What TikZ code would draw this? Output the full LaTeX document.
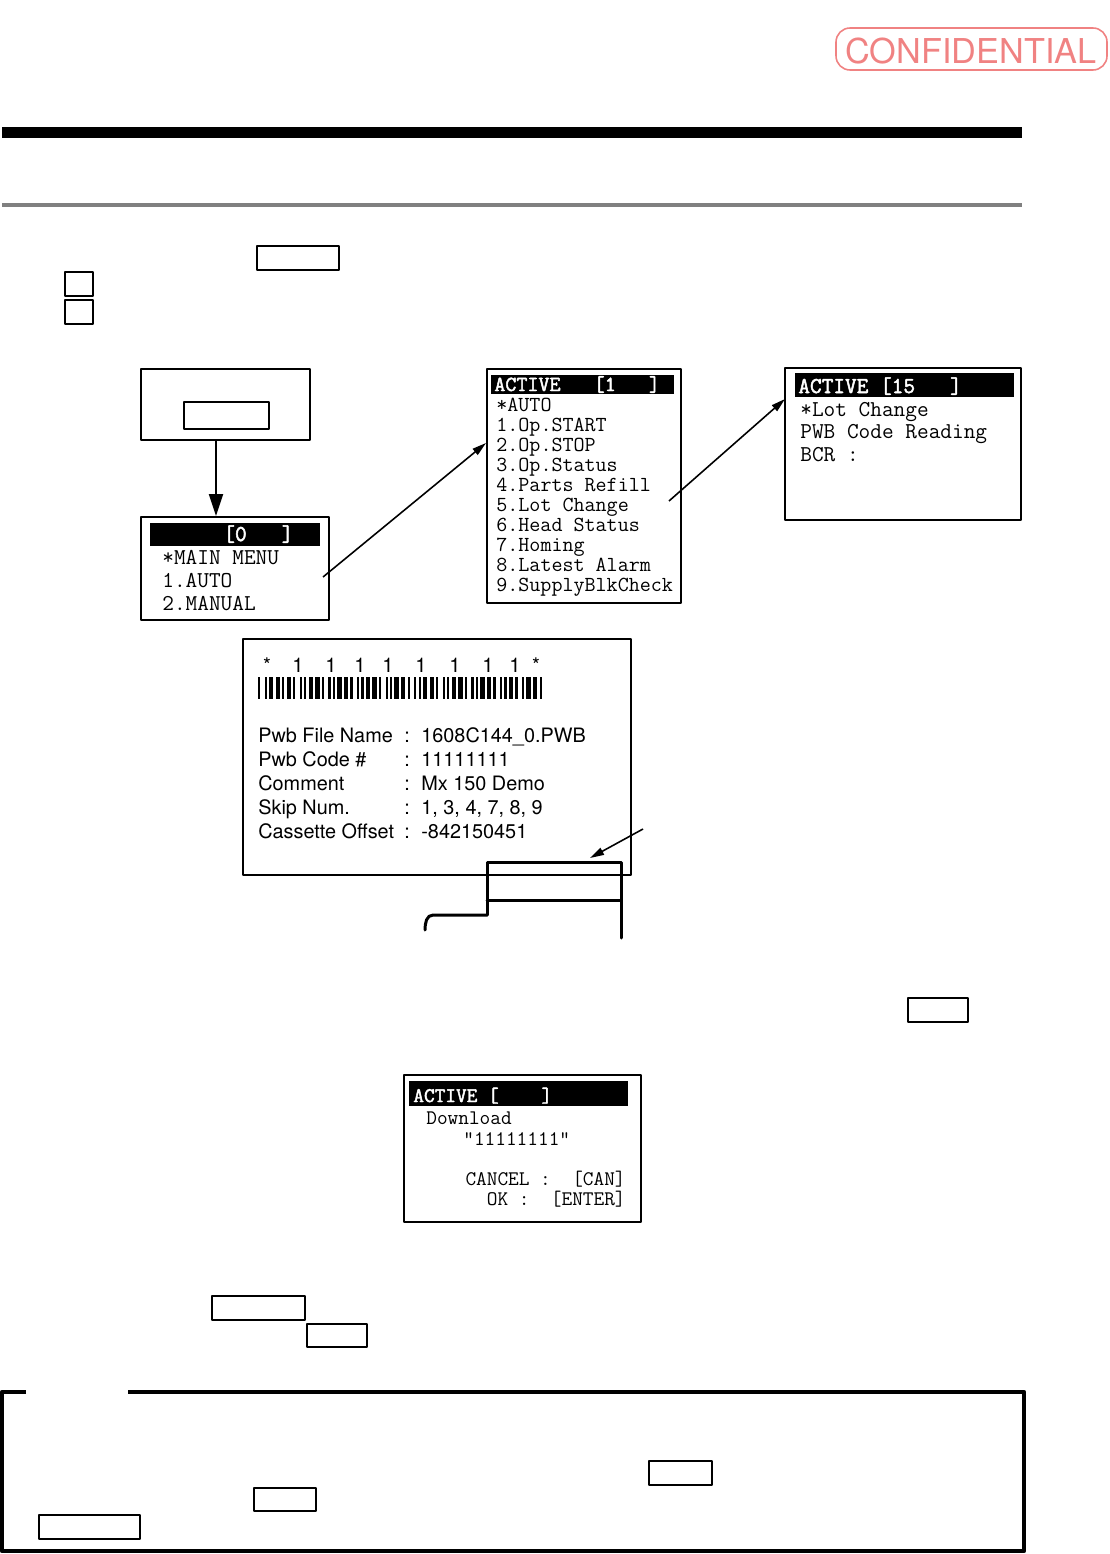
\documentclass[tikz,border=0pt]{standalone}
\usepackage{fontspec}
\setmainfont{TeX Gyre Heros}
\newfontfamily\lcdfont{Latin Modern Mono}
\newfontfamily\lcdboldfont[FakeBold=2.2]{Latin Modern Mono}
\usetikzlibrary{arrows.meta,fit,positioning}

\definecolor{stamp}{RGB}{240,130,130}

\tikzset{
  frame/.style={draw, line width=1.1pt, inner sep=0pt},
  keybox/.style={draw, line width=0.8pt, inner sep=0pt},
  lcd/.style={font=\lcdfont\fontsize{#1}{#1}\selectfont, anchor=base west, inner sep=0pt},
  lcd/.default=12.9,
  lcdhead/.style={font=\lcdboldfont\fontsize{#1}{#1}\selectfont, text=white, anchor=base west, inner sep=0pt},
  lcdhead/.default=12.9,
  labeltext/.style={font=\fontsize{11.3}{13}\selectfont, anchor=base west, inner sep=0pt},
  bigarrow/.style={-{Triangle[length=12.5pt,width=8pt]}, line width=1.1pt},
  thinarrow/.style={-{Triangle[length=8pt,width=4.4pt]}, line width=0.9pt},
  device/.style={line width=1.7pt, line cap=round},
}

\begin{document}
\begin{tikzpicture}[x=0.02cm, y=-0.02cm, line join=round]

\useasboundingbox (0,0) rectangle (1109,1554);

% Stamp
\draw[stamp, line width=0.9pt, rounded corners=8pt] (836,28) rectangle (1107,70);
\node[text=stamp, font=\fontsize{19.5}{20}\selectfont] (stamptext) at (971,51) {CONFIDENTIAL};

% Heading rules
\fill (2,127) rectangle (1022,138);
\draw[black!50, line width=2pt] (2,205) -- (1022,205);

% Key boxes in the text
\node[keybox, fit={(257,246)(339,270)}] (keya) {};
\node[keybox, fit={(65,272)(93,296)}] (keyb) {};
\node[keybox, fit={(65,300)(93,324)}] (keyc) {};

% Start box
\node[frame, fit={(141,369)(310,440)}] (boxa) {};
\node[keybox, fit={(184,402)(269,429)}] (keyin) {};

% Main menu screen
\node[frame, fit={(141,517)(329,620)}] (menu) {};
\fill (150,523) rectangle (320,546);
\node[lcdhead] (menuhead) at (223,541) {[0\ \ \ ]};
\node[lcd] (menu1) at (162,564) {*MAIN MENU};
\node[lcd] (menu2) at (162,587) {1.AUTO};
\node[lcd] (menu3) at (162,610) {2.MANUAL};

% Auto screen
\node[frame, fit={(487,369)(681,603)}] (autoscr) {};
\fill (491,375) rectangle (674,394);
\node[lcdhead=12.2] (autohead) at (494,391) {ACTIVE\ \ \ [1\ \ \ ]};
\foreach \txt [count=\i from 0] in {*AUTO, 1.Op.START, 2.Op.STOP, 3.Op.Status,
    4.Parts Refill, 5.Lot Change, 6.Head Status, 7.Homing, 8.Latest Alarm,
    9.SupplyBlkCheck}
  \node[lcd=12.2] (auto\i) at (496,411+20*\i) {\txt};

% Lot change screen
\node[frame, fit={(785,368)(1021,520)}] (lotscr) {};
\fill (795,373) rectangle (1014,397);
\node[lcdhead] (lothead) at (798,393) {ACTIVE [15\ \ \ ]};
\node[lcd] (lot1) at (800,416) {*Lot Change};
\node[lcd] (lot2) at (800,438) {PWB Code Reading};
\node[lcd] (lot3) at (800,461) {BCR :};

% Arrows between screens
\coordinate (drop) at (216,0);
\draw[bigarrow] (boxa.south -| drop) -- (menu.north -| drop);
\coordinate (menuout) at (323,577);
\coordinate (autoin) at (486,443);
\draw[thinarrow] (menuout) -- (autoin);
\coordinate (autoout) at (669,501);
\coordinate (lotin) at (785,399);
\draw[thinarrow] (autoout) -- (lotin);

% PWB label
\node[frame, fit={(243,639)(631,875)}] (pwblabel) {};
\foreach \cx/\ch in {267/*, 298/1, 331/1, 360/1, 388/1, 421/1, 455/1, 488/1, 515/1, 536/*}
  \node[font=\fontsize{11.5}{12}\selectfont, anchor=base, inner sep=0pt] at (\cx,672) {\ch};
\foreach \pat [count=\k from 0] in {
    {1,0,0,1,0,1,1,0,1,1,0,1,0},
    {1,1,0,1,0,0,1,0,1,0,1,1,0},
    {1,1,0,1,0,0,1,0,1,0,1,1,0},
    {1,1,0,1,0,0,1,0,1,0,1,1,0},
    {1,1,0,1,0,0,1,0,1,0,1,1,0},
    {1,1,0,1,0,0,1,0,1,0,1,1,0},
    {1,1,0,1,0,0,1,0,1,0,1,1,0},
    {1,1,0,1,0,0,1,0,1,0,1,1,0},
    {1,1,0,1,0,0,1,0,1,0,1,1,0},
    {1,0,0,1,0,1,1,0,1,1,0,1}}
  \foreach \b [count=\m from 0] in \pat {
    \ifnum\b=1 \fill ({258+(13*\k+\m)*2.2},677) rectangle ++(2.2,22); \fi
  };
\node[labeltext] (key1) at (258,742) {Pwb File Name};
\node[labeltext] (key2) at (258,766) {Pwb Code \#};
\node[labeltext] (key3) at (258,790) {Comment};
\node[labeltext] (key4) at (258,814) {Skip Num.};
\node[labeltext] (key5) at (258,838) {Cassette Offset};
\foreach \i in {0,...,4}
  \node[labeltext] at (404,742+24*\i) {:};
\node[labeltext] (val1) at (421,742) {1608C144\_0.PWB};
\node[labeltext] (val2) at (421,766) {11111111};
\node[labeltext] (val3) at (421,790) {Mx 150 Demo};
\node[labeltext] (val4) at (421,814) {1, 3, 4, 7, 8, 9};
\node[labeltext] (val5) at (421,838) {-842150451};

% Reader
\draw[device] (487,915) -- (487,862) -- (621,862) -- (621,938);
\draw[device] (487,900) -- (621,900);
\draw[device] (487,915) -- (433,915) to[out=180, in=90] (425,930);
\coordinate (readtail) at (643,829);
\coordinate (readtip) at (590,858);
\draw[thinarrow] (readtail) -- (readtip);

\node[keybox, fit={(908,998)(968,1022)}] (keyd) {};

% Download screen
\node[frame, fit={(404,1075)(641,1222)}] (dlscr) {};
\fill (409,1081) rectangle (628,1106);
\node[lcdhead=11.8] (dlhead) at (413,1102) {ACTIVE [\ \ \ \ ]};
\node[lcd=11.8] (dl1) at (426,1124) {Download};
\node[lcd=11.8] (dl2) at (463,1145) {"11111111"};
\node[lcd=11.8, anchor=base east] (dl3) at (626,1185) {CANCEL :\ \ [CAN]};
\node[lcd=11.8, anchor=base east] (dl4) at (626,1205) {OK :\ \ [ENTER]};

\node[keybox, fit={(212,1296)(305,1320)}] (keye) {};
\node[keybox, fit={(307,1324)(367,1347)}] (keyf) {};

% Note frame
\draw[line width=2.4pt] (26,1392) -- (2,1392) -- (2,1551) -- (1024,1551) -- (1024,1392) -- (128,1392);
\node[keybox, fit={(649,1461)(712,1485)}] (keyg) {};
\node[keybox, fit={(254,1488)(316,1511)}] (keyh) {};
\node[keybox, fit={(39,1515)(140,1539)}] (keyi) {};

\end{tikzpicture}
\end{document}
